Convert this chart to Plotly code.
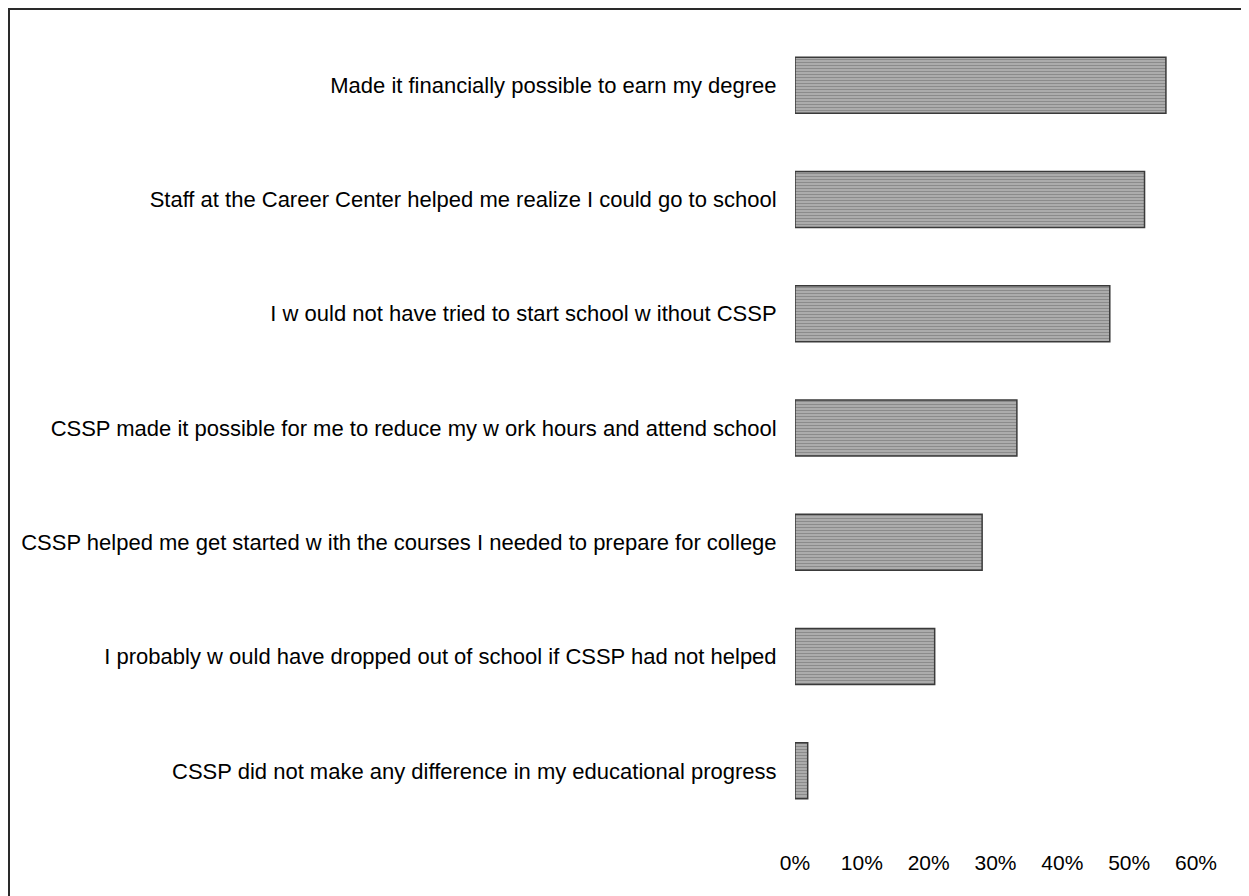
import plotly.graph_objects as go

categories = [
    "Made it financially possible to earn my degree",
    "Staff at the Career Center helped me realize I could go to school",
    "I w ould not have tried to start school w ithout CSSP",
    "CSSP made it possible for me to reduce my w ork hours and attend school",
    "CSSP helped me get started w ith the courses I needed to prepare for college",
    "I probably w ould have dropped out of school if CSSP had not helped",
    "CSSP did not make any difference in my educational progress",
]
values = [0.555, 0.523, 0.471, 0.332, 0.280, 0.209, 0.019]
tick_vals = [0, 0.1, 0.2, 0.3, 0.4, 0.5, 0.6]
tick_text = ["0%", "10%", "20%", "30%", "40%", "50%", "60%"]

FONT = "Liberation Sans, Arial, sans-serif"

fig = go.Figure(
    go.Bar(
        x=values,
        y=categories,
        orientation="h",
        marker=dict(
            color="#a0a0a0",
            line=dict(color="#3a3a3a", width=1.5),
            pattern=dict(shape="-", fgcolor="#666666", bgcolor="#b0b0b0", size=3, solidity=0.4),
        ),
        width=0.49,
        hoverinfo="x+y",
    )
)

fig.update_layout(
    width=1241,
    height=888,
    margin=dict(l=787, r=53, t=20, b=68),
    paper_bgcolor="white",
    plot_bgcolor="white",
    showlegend=False,
    font=dict(family=FONT, color="black", size=21),
    xaxis=dict(
        range=[0, 0.6],
        tickvals=tick_vals,
        ticktext=tick_text,
        showgrid=False,
        zeroline=False,
        showline=False,
        ticks="outside",
        ticklen=16,
        tickcolor="rgba(0,0,0,0)",
        tickfont=dict(size=21, family=FONT),
    ),
    yaxis=dict(
        autorange="reversed",
        showgrid=False,
        zeroline=False,
        showline=False,
        ticks="outside",
        ticklen=13,
        tickcolor="rgba(0,0,0,0)",
        tickfont=dict(size=22, family=FONT),
    ),
    shapes=[
        dict(
            type="rect",
            xref="paper", yref="paper",
            xsizemode="pixel", ysizemode="pixel",
            xanchor=0, yanchor=1,
            x0=-786, x1=470, y0=19, y1=-880,
            line=dict(color="#2a2a2a", width=2),
            fillcolor="rgba(0,0,0,0)",
            layer="below",
        )
    ],
)

fig.write_html("out.html")
